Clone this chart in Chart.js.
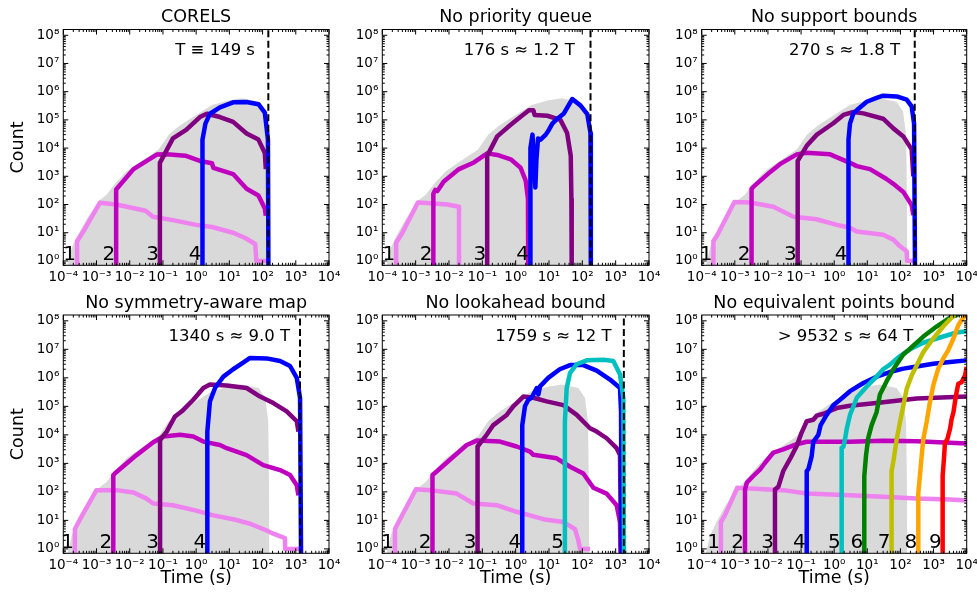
<!DOCTYPE html>
<html><head><meta charset="utf-8">
<script src="https://cdn.jsdelivr.net/npm/chart.js@4.4.1/dist/chart.umd.min.js"></script>
<style>
html,body{margin:0;padding:0;background:#fff;}
#wrap{position:relative;width:977px;height:594px;overflow:hidden;background:#fff;}
canvas{position:absolute;left:0;top:0;}
</style></head><body><div id="wrap"></div>
<script>
// ---------------- DATA ----------------
const titles = ['CORELS','No priority queue','No support bounds','No symmetry-aware map','No lookahead bound','No equivalent points bound'];
const notes = ['T \u2261 149 s','176 s \u2248 1.2 T','270 s \u2248 1.8 T','1340 s \u2248 9.0 T','1759 s \u2248 12 T','> 9532 s \u2248 64 T'];
const dashedT = [149, 176, 270, 1340, 1759, null];
const noteX = [59, 60, 98, 676, 760, 245];
const xTitle = 'Time (s)';
const yTitle = 'Count';
const xTickVals = [1e-4,1e-3,1e-2,1e-1,1,10,100,1000,10000];
const xTickLabels = ['10\u207B\u2074','10\u207B\u00B3','10\u207B\u00B2','10\u207B\u00B9','10\u2070','10\u00B9','10\u00B2','10\u00B3','10\u2074'];
const yTickVals = [1,10,100,1e3,1e4,1e5,1e6,1e7,1e8];
const yTickLabels = ['10\u2070','10\u00B9','10\u00B2','10\u00B3','10\u2074','10\u2075','10\u2076','10\u2077','10\u2078'];
const levelLabels = ['1','2','3','4','5','6','7','8','9'];
const levelColors = ['#EE82EE','#BF00BF','#800080','#0000FF','#00BFBF','#008000','#BFBF00','#FFA500','#FF0000'];

// CORELS total (gray reference region)
const grayT = [1.25e-4,1.8e-4,2.8e-4,5e-4,1.2e-3,2e-3,3.6e-3,8e-3,0.03,0.074,0.15,0.3,0.74,3,10,24,76,120,148,158,162];
const grayN = [0.5,3,8.7,30,140,220,540,1500,4400,9000,3e4,6e4,1.2e5,3.4e5,5e5,5.8e5,4.4e5,2e5,3e4,100,0.5];

// Panel 1: CORELS  [time, count]
const c1_l1 = [[2.6e-4,0.5],[2.6e-4,5],[4e-4,11],[1.26e-3,115],[4e-3,100],[0.03,60],[0.05,37],[0.2,28],[1,19],[3,16],[13,10],[30,6.5],[60,4],[65,1],[140,1]];
const c1_l2 = [[3.9e-3,0.5],[3.9e-3,340],[0.013,1800],[0.065,5900],[0.13,6000],[0.47,5400],[1.3,3500],[3,2900],[3.3,2000],[13,1200],[33,360],[75,210],[117,72],[125,40]];
const c1_l3 = [[0.081,0.5],[0.081,3000],[0.2,2.2e4],[0.5,4.4e4],[1.3,1.26e5],[2.1,1.65e5],[5.2,1.26e5],[13,8.5e4],[33,3.3e4],[75,2e4],[117,6700],[125,1800]];
const c1_l4 = [[1.55,0.5],[1.55,2e4],[1.9,7.4e4],[2.6,1.65e5],[5.2,2.8e5],[13,4.2e5],[33,4.3e5],[75,3.6e5],[117,1.8e5],[145,2e4],[150,0.5]];

// Panel 2: No priority queue
const c2_l1 = [[2.6e-4,0.5],[2.6e-4,4.4],[4e-4,10],[1.17e-3,117],[2.8e-3,110],[8.9e-3,100],[0.02,83],[0.02,0.5]];
const c2_l2 = [[3.4e-3,0.5],[3.4e-3,240],[3.9e-3,330],[4.5e-3,300],[7e-3,650],[0.02,1800],[0.056,3100],[0.14,6500],[0.28,5700],[0.71,4000],[1.41,2000],[2,700],[2.34,160],[2.38,0.5]];
const c2_l3 = [[0.14,0.5],[0.14,5300],[0.28,2.6e4],[0.71,6.7e4],[1.41,1.3e5],[2.5,2.2e5],[3.4,2.2e5],[3.7,1.5e5],[8.9,1.4e5],[22,1e5],[35,3.4e4],[45,5300],[47,160],[48,0.5]];
const c2_l4 = [[2.7,0.5],[2.7,1e3],[2.85,1e4],[3.2,3e4],[3.5,4e3],[3.9,400],[4.2,4e3],[4.7,2.2e4],[5.6,2e4],[8,3e4],[10,4.5e4],[12.6,7.4e4],[17.8,1.1e5],[28,1.7e5],[50,5.5e5],[89,3.2e5],[141,1.6e5],[175,3.4e4],[180,0.5]];

// Panel 3: No support bounds
const c3_l1 = [[2.25e-4,0.5],[2.25e-4,5],[3e-4,8.5],[9.7e-4,123],[2.9e-3,118],[0.0146,83],[0.059,37],[0.295,30],[1.19,19],[3,15],[4.8,11],[30,8.5],[61,5.7],[97,3.3],[154,2.2],[160,1],[245,1]];
const c3_l2 = [[3.2e-3,0.5],[3.2e-3,360],[3.6e-3,420],[0.0115,1400],[0.023,2700],[0.074,6000],[0.148,6800],[0.75,6000],[3,3000],[4.8,2300],[12,1800],[38,800],[61,540],[122,280],[218,95],[245,42]];
const c3_l3 = [[0.079,0.5],[0.079,3500],[0.148,1.2e4],[0.3,3e4],[0.94,7.6e4],[1.9,1.5e5],[3.8,1.9e5],[7.6,1.7e5],[30,1.1e5],[61,5e4],[122,2.6e4],[218,9e3],[245,1000]];
const c3_l4 = [[2.7,0.5],[2.7,2e4],[3,7.4e4],[3.8,1.7e5],[5.4,2.5e5],[9.6,4.4e5],[19,6e5],[30,7.2e5],[77,6.8e5],[154,5.2e5],[218,3e5],[258,7.4e4],[275,0.5]];

// Panel 4: No symmetry-aware map
const c4_l1 = [[2.24e-4,0.5],[2.24e-4,5],[3.2e-4,11],[1e-3,115],[4e-3,115],[0.013,95],[0.032,58],[0.051,39],[0.2,34],[1,22],[3.3,15],[13,11],[42,7.6],[132,4.4],[211,3.4],[470,2.4],[480,1],[1343,1]];
const c4_l2 = [[3.2e-3,0.5],[3.2e-3,390],[4e-3,500],[0.016,1950],[0.051,5500],[0.103,8700],[0.33,1e4],[0.82,8700],[1.65,5800],[5.2,4400],[8.3,3400],[33,1950],[105,870],[336,580],[671,390],[1070,170],[1200,76]];
const c4_l3 = [[0.082,0.5],[0.082,6600],[0.13,1.3e4],[0.23,4.4e4],[0.37,6.7e4],[0.82,1.7e5],[1.65,4.4e5],[2.6,5.8e5],[8.3,5.4e5],[33,4.4e5],[84,2.2e5],[211,1.3e5],[533,6.7e4],[1070,3e4],[1200,1.3e4]];
const c4_l4 = [[2.17,0.5],[2.17,1.3e4],[2.6,1.5e5],[3.7,4.4e5],[6.6,1.1e6],[13,2e6],[26,3.4e6],[42,5e6],[132,4.8e6],[336,3.9e6],[671,2.6e6],[1070,1e6],[1343,2e5],[1440,0.5]];

// Panel 5: No lookahead bound
const c5_l1 = [[2.4e-4,0.5],[2.4e-4,5],[3.4e-4,11],[1.02e-3,124],[2.7e-3,115],[0.017,87],[0.054,39],[0.27,34],[1.07,20],[2.7,15],[6.8,11],[27,8.7],[60,5],[76,2],[85,1],[170,1]];
const c5_l2 = [[3.2e-3,0.5],[3.2e-3,390],[4.1e-3,500],[0.0135,1700],[0.034,4400],[0.068,6300],[0.34,5800],[1.07,3900],[2.7,2600],[3.4,2000],[17,1500],[43,760],[107,440],[214,140],[537,87],[1070,34],[1350,8.7],[1410,0.5]];
const c5_l3 = [[0.072,0.5],[0.072,3900],[0.135,1e4],[0.214,2.2e4],[0.54,5e4],[0.85,1e5],[1.7,2.2e5],[3.4,2e5],[8.5,1.5e5],[27,1.1e5],[68,5e4],[170,1.7e4],[270,1.3e4],[537,7600],[1070,3400],[1350,1950],[1450,0.5]];
const c5_l4 = [[1.58,0.5],[1.58,2.2e4],[1.9,1e5],[2.4,1.7e5],[3,2e5],[4.3,4.4e5],[4.8,2.6e5],[5.4,5e5],[9.5,1e6],[21,2e6],[43,2.8e6],[107,2.8e6],[270,1.8e6],[676,8.7e5],[1350,4.4e5],[1450,6.7e4],[1510,0.5]];
const c5_l5 = [[30,0.5],[30,3e4],[34,4.4e5],[43,1.5e6],[68,3e6],[135,4.1e6],[427,4.3e6],[851,3.9e6],[1350,1.3e6],[1700,2e5],[1780,0.5]];

// Panel 6: No equivalent points bound
const c6_l1 = [[3.8e-4,0.5],[3.8e-4,8.7],[5e-4,15],[1.19e-3,140],[2.9e-3,130],[0.029,115],[0.148,87],[3,76],[30,67],[309,58],[3130,54],[1e4,50]];
const c6_l2 = [[2.03e-3,0.5],[2.03e-3,120],[2.3e-3,210],[3.6e-3,360],[5.8e-3,620],[8.2e-3,1050],[0.0146,2400],[0.029,3100],[0.074,4700],[0.148,5700],[3,5700],[30,6200],[309,6000],[1e4,5000]];
const c6_l3 = [[0.0163,0.5],[0.0163,120],[0.0206,150],[0.029,540],[0.046,1400],[0.074,4100],[0.104,1.2e4],[0.148,3e4],[0.234,3.4e4],[0.296,4.7e4],[0.47,5.5e4],[1.19,8.7e4],[3,1.05e5],[9.6,1.2e5],[30,1.4e5],[309,1.9e5],[1e4,2.2e5]];
const c6_l4 = [[0.148,0.5],[0.148,540],[0.166,620],[0.209,1800],[0.234,5700],[0.332,1e4],[0.39,2.2e4],[0.59,5e4],[0.94,1.1e5],[1.5,1.7e5],[3,3.4e5],[7.6,6.6e5],[19,1.1e6],[48,1.6e6],[122,2.1e6],[309,2.5e6],[980,3.1e6],[3130,3.6e6],[1e4,4.1e6]];
const c6_l5 = [[1.68,0.5],[1.68,3600],[1.89,3800],[2.12,7000],[2.38,1.6e4],[3,5e4],[4.8,2e5],[9.6,5e5],[19,1.1e6],[30,2e6],[48,2.9e6],[97,5.8e6],[194,1e7],[490,1.7e7],[1560,2.6e7],[4970,3.9e7],[1e4,4.3e7]];
const c6_l6 = [[8.1,0.5],[8.1,360],[9.1,1800],[10.7,8000],[13.5,2.2e4],[19,6.2e4],[24,2.6e5],[38,7.5e5],[61,2e6],[122,6.6e6],[194,1.05e7],[490,2.8e7],[1230,6.3e7],[3130,1.3e8],[4970,1.6e8],[1e4,2.2e8]];
const c6_l7 = [[54,0.5],[54,540],[61,1150],[77,7000],[97,2.8e4],[122,1.05e5],[154,4.1e5],[218,1.2e6],[309,2.7e6],[490,8e6],[980,2.4e7],[1950,6.3e7],[3980,1.5e8],[6000,2.5e8]];
const c6_l8 = [[346,0.5],[346,91],[370,210],[437,1800],[490,7000],[617,2.8e4],[777,1.4e5],[980,5.4e5],[1380,2.1e6],[1950,4.7e6],[2760,9.2e6],[3980,2.4e7],[5570,7e7],[7900,1.3e8],[1e4,1.6e8]];
const c6_l9 = [[1880,0.5],[1880,360],[2060,1500],[2210,5400],[2600,7000],[3130,1.6e4],[3510,3.6e4],[3980,6.2e4],[4420,1.4e5],[4970,3.2e5],[5570,6.2e5],[7030,7e5],[8870,1.2e6],[1e4,2.4e6]];

const panelCurves = [
  [c1_l1,c1_l2,c1_l3,c1_l4],
  [c2_l1,c2_l2,c2_l3,c2_l4],
  [c3_l1,c3_l2,c3_l3,c3_l4],
  [c4_l1,c4_l2,c4_l3,c4_l4],
  [c5_l1,c5_l2,c5_l3,c5_l4,c5_l5],
  [c6_l1,c6_l2,c6_l3,c6_l4,c6_l5,c6_l6,c6_l7,c6_l8,c6_l9]
];

// ---------------- LAYOUT / STYLE ----------------
const FONT = "'DejaVu Sans', 'Liberation Sans', sans-serif";
Chart.defaults.font.family = FONT;
Chart.defaults.color = '#000';
const yMin = 0.7, yMax = 1.6e8;
const colLeft = [63.3, 382.3, 701.7], colRight = [329, 649, 966.7];
const rowTop = [29.5, 315], rowBottom = [265.3, 553.3];
const YAXW = 55, XAXH = 36, TITLEH = 22.5;

function decorPlugin(i) {
  return {
    id: 'decor' + i,
    afterDraw(chart) {
      const {ctx, chartArea: a, scales: {x, y}} = chart;
      ctx.save();
      ctx.strokeStyle = '#000';
      ctx.lineWidth = 1;
      ctx.beginPath();
      // x ticks (inward, top and bottom)
      for (let e = -4; e <= 4; e++) {
        for (let m = 1; m <= 9; m++) {
          const v = m * Math.pow(10, e);
          if (v > 1e4 * 1.0001) break;
          const px = x.getPixelForValue(v);
          const len = m === 1 ? 5 : 2.5;
          ctx.moveTo(px, a.bottom); ctx.lineTo(px, a.bottom - len);
          ctx.moveTo(px, a.top); ctx.lineTo(px, a.top + len);
        }
      }
      for (let e = -1; e <= 8; e++) {
        for (let m = 1; m <= 9; m++) {
          const v = m * Math.pow(10, e);
          if (v < yMin || v > yMax) continue;
          const py = y.getPixelForValue(v);
          const len = m === 1 ? 5 : 2.5;
          ctx.moveTo(a.left, py); ctx.lineTo(a.left + len, py);
          ctx.moveTo(a.right, py); ctx.lineTo(a.right - len, py);
        }
      }
      ctx.stroke();
      ctx.strokeRect(a.left, a.top, a.right - a.left, a.bottom - a.top);

      // level numbers, right-aligned at each level's start time
      ctx.fillStyle = '#000';
      ctx.font = '20px ' + FONT;
      ctx.textAlign = 'right';
      ctx.textBaseline = 'alphabetic';
      panelCurves[i].forEach((cur, k) => {
        ctx.fillText(levelLabels[k], x.getPixelForValue(cur[0][0]) - 1, y.getPixelForValue(1.1));
      });
      // runtime note
      ctx.font = '16.5px ' + FONT;
      ctx.textBaseline = 'middle';
      ctx.fillText(notes[i], x.getPixelForValue(noteX[i]), y.getPixelForValue(2.8e7));
      ctx.restore();
    }
  };
}

const wrap = document.getElementById('wrap');
for (let i = 0; i < 6; i++) {
  const r = Math.floor(i / 3), c = i % 3;
  const cv = document.createElement('canvas');
  cv.width = 977; cv.height = 594;
  cv.style.width = '977px'; cv.style.height = '594px';
  wrap.appendChild(cv);

  const datasets = [];
  datasets.push({
    data: grayT.map((t, k) => ({x: t, y: grayN[k]})),
    fill: 'start', backgroundColor: '#d9d9d9', borderWidth: 0, borderColor: 'rgba(0,0,0,0)',
    pointRadius: 0, order: 100
  });
  panelCurves[i].forEach((cur, k) => {
    datasets.push({
      data: cur.map(p => ({x: p[0], y: p[1]})),
      borderColor: levelColors[k], borderWidth: 4.5, pointRadius: 0, fill: false,
      borderJoinStyle: 'round', borderCapStyle: 'butt', order: 50 - k
    });
  });
  if (dashedT[i] !== null) {
    datasets.push({
      data: [{x: dashedT[i], y: 0.1}, {x: dashedT[i], y: 1e10}],
      borderColor: '#000', borderWidth: 2, borderDash: [7, 3.5], pointRadius: 0, fill: false, order: 0
    });
  }

  new Chart(cv, {
    type: 'line',
    data: {datasets},
    options: {
      responsive: false, animation: false, devicePixelRatio: 1,
      events: [],
      layout: {padding: {
        left: colLeft[c] - YAXW, right: 977 - colRight[c],
        top: rowTop[r] - TITLEH, bottom: 594 - rowBottom[r] - XAXH
      }},
      plugins: {
        legend: {display: false}, tooltip: {enabled: false},
        title: {display: true, text: titles[i], fullSize: false, color: '#000',
          font: {size: 17.5, weight: 'normal', lineHeight: 1.2}, padding: {top: 0, bottom: 1.5}}
      },
      scales: {
        x: {
          type: 'logarithmic', min: 1e-4, max: 1e4,
          grid: {display: false, drawTicks: false}, border: {display: false},
          afterBuildTicks: s => { s.ticks = xTickVals.map(v => ({value: v})); },
          ticks: {autoSkip: false, maxRotation: 0, minRotation: 0, padding: 4, font: {size: 13.5},
            callback: (v, idx) => xTickLabels[idx]},
          title: {display: r === 1, text: xTitle, font: {size: 17.5, lineHeight: 1.2}, padding: 0},
          afterFit: s => { s.height = XAXH; s.paddingLeft = 0; s.paddingRight = 0; }
        },
        y: {
          type: 'logarithmic', min: yMin, max: yMax,
          grid: {display: false, drawTicks: false}, border: {display: false},
          afterBuildTicks: s => { s.ticks = yTickVals.map(v => ({value: v})); },
          ticks: {autoSkip: false, padding: 4, font: {size: 13.5},
            callback: (v, idx) => yTickLabels[idx]},
          title: {display: c === 0, text: yTitle, font: {size: 17.5, lineHeight: 1.2}, padding: 0},
          afterFit: s => { s.width = YAXW; s.paddingTop = 0; s.paddingBottom = 0; }
        }
      }
    },
    plugins: [decorPlugin(i)]
  });
}
</script>
</body></html>
